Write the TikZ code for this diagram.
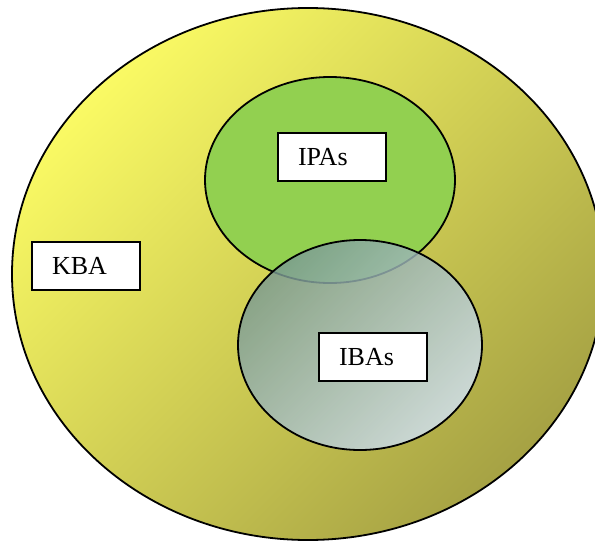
\documentclass[tikz,border=0pt]{standalone}
\usepackage{fontspec}
\setmainfont{Liberation Serif}
\begin{document}
\begin{tikzpicture}[x=1pt,y=-1pt,
  lbl/.style={draw=black, line width=1.8pt, fill=white, minimum width=108pt, minimum height=48pt,
    text width=68pt, inner xsep=20pt, align=left, font=\fontsize{26}{29}\selectfont}]
\useasboundingbox (0,0) rectangle (595,541);
\definecolor{ylight}{HTML}{FAFA64}
\definecolor{ydark}{HTML}{A6A244}
\definecolor{grn}{HTML}{92D050}
\definecolor{bdark}{HTML}{7A9A92}
\definecolor{blight}{HTML}{D2E2F4}
\shade[top color=ylight, bottom color=ydark, shading angle=45]
  (308,274) ellipse [x radius=296, y radius=266];
\draw[line width=1.8pt] (308,274) ellipse [x radius=296, y radius=266];
\fill[grn] (330,180) ellipse [x radius=125, y radius=103];
\draw[line width=1.8pt] (330,180) ellipse [x radius=125, y radius=103];
\shade[top color=bdark, bottom color=blight, shading angle=45, fill opacity=0.82]
  (360,345) ellipse [x radius=122, y radius=105];
\draw[line width=1.8pt] (360,345) ellipse [x radius=122, y radius=105];
\node[lbl] (ipas) at (332,157) {\raisebox{-2pt}{IPAs}};
\node[lbl] (kba) at (86,266) {\raisebox{-2pt}{KBA}};
\node[lbl] (ibas) at (373,357) {\raisebox{-2pt}{IBAs}};
\end{tikzpicture}
\end{document}
